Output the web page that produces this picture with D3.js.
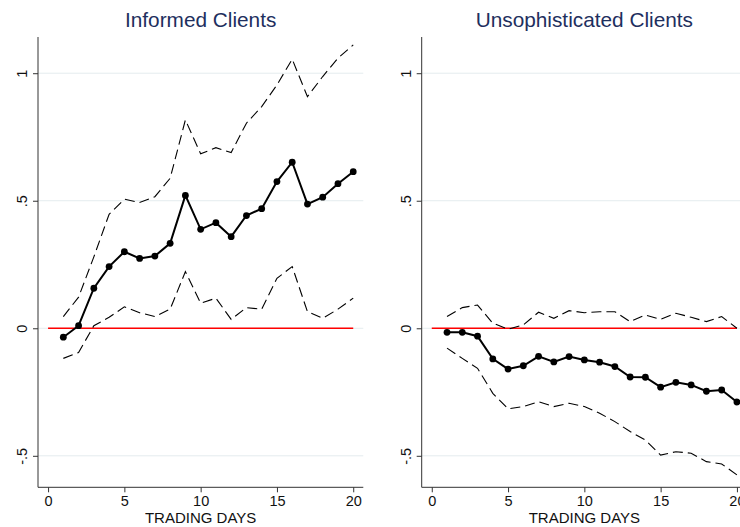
<!DOCTYPE html>
<html>
<head>
<meta charset="utf-8">
<script src="https://cdn.jsdelivr.net/npm/d3@7"></script>
<style>
  html, body { margin: 0; padding: 0; background: #fff; }
  svg { display: block; font-family: "Liberation Sans", Arial, sans-serif; }
</style>
</head>
<body>
<svg id="chart" width="740" height="527"></svg>
<script>
const days = d3.range(1, 21);
const xTicks = [0, 5, 10, 15, 20];
const yTicks = [-0.5, 0, 0.5, 1];
const yTickLabels = ["-.5", "0", ".5", "1"];
const panelTitles = ["Informed Clients", "Unsophisticated Clients"];
const xLabel = "TRADING DAYS";

const informedEst   = [-0.035, 0.01, 0.157, 0.242, 0.300, 0.274, 0.283, 0.333, 0.521, 0.388, 0.414, 0.359, 0.442, 0.469, 0.575, 0.651, 0.487, 0.514, 0.567, 0.614];
const informedUpper = [0.046, 0.122, 0.28, 0.447, 0.506, 0.493, 0.516, 0.588, 0.817, 0.684, 0.708, 0.689, 0.804, 0.869, 0.954, 1.055, 0.908, 0.987, 1.059, 1.111];
const informedLower = [-0.118, -0.095, 0.01, 0.043, 0.084, 0.061, 0.046, 0.075, 0.222, 0.098, 0.118, 0.035, 0.081, 0.075, 0.196, 0.242, 0.065, 0.039, 0.075, 0.118];

const unsophEst   = [-0.016, -0.016, -0.031, -0.120, -0.160, -0.147, -0.110, -0.132, -0.111, -0.124, -0.133, -0.150, -0.191, -0.192, -0.231, -0.212, -0.222, -0.247, -0.242, -0.289];
const unsophUpper = [0.046, 0.081, 0.091, 0.02, -0.004, 0.013, 0.063, 0.039, 0.069, 0.061, 0.065, 0.065, 0.026, 0.052, 0.035, 0.059, 0.043, 0.026, 0.046, 0.0];
const unsophLower = [-0.078, -0.118, -0.157, -0.255, -0.316, -0.307, -0.288, -0.307, -0.294, -0.307, -0.333, -0.366, -0.405, -0.438, -0.497, -0.484, -0.490, -0.523, -0.532, -0.575];

const svg = d3.select("#chart");

const panels = [
  { title: panelTitles[0], est: informedEst, up: informedUpper, lo: informedLower, x0: 38, x1: 363.3 },
  { title: panelTitles[1], est: unsophEst, up: unsophUpper, lo: unsophLower, x0: 421.7, x1: 747 }
];

const yTop = 37, yBot = 487.3;
const y = d3.scaleLinear().domain([-0.6235, 1.142]).range([yBot, yTop]);

panels.forEach(p => {
  const g = svg.append("g");
  const x = d3.scaleLinear().domain([-0.66, 20.66]).range([p.x0, p.x1]);

  // grid lines
  g.selectAll(".grid").data(yTicks).enter().append("line")
    .attr("x1", p.x0).attr("x2", Math.min(p.x1, 740))
    .attr("y1", d => y(d)).attr("y2", d => y(d))
    .attr("stroke", "#e4ecee").attr("stroke-width", 1);

  // zero reference line
  g.append("line")
    .attr("x1", x(0)).attr("x2", x(20))
    .attr("y1", y(0)).attr("y2", y(0))
    .attr("stroke", "#ff0000").attr("stroke-width", 1.4);

  const line = d3.line().x((d, i) => x(days[i])).y(d => y(d));

  // confidence bands
  [p.up, p.lo].forEach(arr => {
    g.append("path").datum(arr)
      .attr("d", line)
      .attr("fill", "none")
      .attr("stroke", "#000")
      .attr("stroke-width", 1.1)
      .attr("stroke-dasharray", "10,5");
  });

  // estimate
  g.append("path").datum(p.est)
    .attr("d", line)
    .attr("fill", "none")
    .attr("stroke", "#000")
    .attr("stroke-width", 2);
  g.selectAll(".dot").data(p.est).enter().append("circle")
    .attr("cx", (d, i) => x(days[i]))
    .attr("cy", d => y(d))
    .attr("r", 3.4)
    .attr("fill", "#000");

  // y axis
  const yAxis = d3.axisLeft(y).tickValues(yTicks).tickSize(5).tickPadding(6)
    .tickFormat((d, i) => yTickLabels[i]);
  const ya = g.append("g").attr("transform", `translate(${p.x0},0)`).call(yAxis);
  ya.select(".domain").attr("d", `M0,${yTop}V${yBot}`).attr("stroke", "#333");
  ya.selectAll(".tick line").attr("stroke", "#333");
  ya.selectAll(".tick text")
    .attr("font-size", 14.5).attr("fill", "#111")
    .attr("transform", "rotate(-90)")
    .attr("x", 0).attr("y", -11)
    .attr("dy", 0)
    .attr("text-anchor", "middle");

  // x axis
  const xAxis = d3.axisBottom(x).tickValues(xTicks).tickSize(5).tickPadding(3);
  const xa = g.append("g").attr("transform", `translate(0,${yBot})`).call(xAxis);
  xa.select(".domain").attr("d", `M${p.x0},0H${p.x1}`).attr("stroke", "#333");
  xa.selectAll(".tick line").attr("stroke", "#333");
  xa.selectAll(".tick text").attr("font-size", 14.5).attr("fill", "#111");

  // x label
  g.append("text")
    .attr("x", (p.x0 + p.x1) / 2).attr("y", 523)
    .attr("text-anchor", "middle")
    .attr("font-size", 15).attr("fill", "#111")
    .text(xLabel);

  // title
  g.append("text")
    .attr("x", (p.x0 + p.x1) / 2).attr("y", 27)
    .attr("text-anchor", "middle")
    .attr("font-size", 20.8).attr("fill", "#1e2f5e")
    .text(p.title);
});
</script>
</body>
</html>
